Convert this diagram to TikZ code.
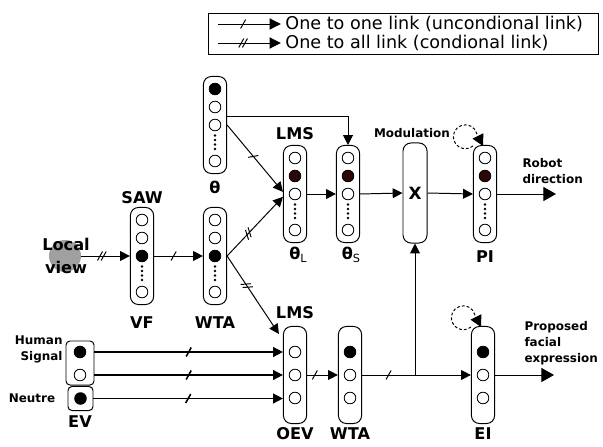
\documentclass[tikz,border=0pt]{standalone}
\usepackage{fontspec}
\setmainfont{DejaVu Sans}
\usetikzlibrary{arrows.meta, calc, decorations.markings}
\definecolor{cellred}{RGB}{45,8,8}
\definecolor{viewgray}{RGB}{160,160,160}

\begin{document}
\begin{tikzpicture}[x=0.025cm, y=-0.025cm, line width=0.7pt,
  col/.style={draw, rounded corners=0.2cm, minimum width=0.58cm, minimum height=2.425cm, inner sep=0pt},
  cell/.style={draw, circle, fill=white, minimum size=0.29cm, inner sep=0pt, line width=0.6pt},
  inbox/.style={draw, rounded corners=0.1cm, inner sep=0pt},
  lbl/.style={font=\fontsize{11.5}{16}\selectfont\bfseries, inner sep=0pt},
  note/.style={font=\fontsize{8.5}{11.5}\selectfont\bfseries, inner sep=0pt},
  legtext/.style={font=\fontsize{12.5}{14}\selectfont, inner sep=0pt, anchor=west},
  arr/.style={-{Triangle[length=7pt, width=7pt]}},
  bigarr/.style={-{Triangle[length=9pt, width=10pt]}},
  slash/.style={postaction={decorate}, decoration={markings,
    mark=at position #1 with {\draw[-] (-1.8pt,-3.2pt) -- (1.8pt,3.2pt);}}},
  slash/.default=0.5,
  dslash/.style={postaction={decorate}, decoration={markings,
    mark=at position #1 with {\draw[-] (-3.1pt,-3.2pt) -- (0.5pt,3.2pt); \draw[-] (-0.5pt,-3.2pt) -- (3.1pt,3.2pt);}}},
  dslash/.default=0.5,
  selfloop/.style={dash pattern=on 2pt off 1.5pt, -{Triangle[length=8pt, width=8.5pt]}}
]
\useasboundingbox (0,0) rectangle (603,446);

% legend
\node[draw, minimum width=9.725cm, minimum height=1.025cm, inner sep=0pt] (legend) at (403.5,33.5) {};
\node[legtext] (lgone) at (285,24) {One to one link (uncondional link)};
\node[legtext] (lgall) at (285,43) {One to all link (condional link)};
\coordinate (lgonestart) at (218,24);
\coordinate (lgallstart) at (218,43);
\draw[-{Triangle[length=8pt, width=8pt]}, slash=0.4] (lgonestart) -- ([xshift=-3pt]lgone.west);
\draw[-{Triangle[length=8pt, width=8pt]}, dslash=0.4] (lgallstart) -- ([xshift=-3pt]lgall.west);

% columns with five cells
\foreach \n/\cx/\cy/\a/\b/\c in {vf/142/256/white/white/black, wta/215/256/white/white/black,
    th/215/125/black/white/white, thl/295/194/white/cellred/white,
    ths/348/194/white/cellred/white, picol/485/194/white/cellred/white}{
  \node[col] (\n) at (\cx,\cy) {};
  \node[cell, fill=\a] (\n1) at ($(\n)+(0,-36)$) {};
  \node[cell, fill=\b] (\n2) at ($(\n)+(0,-18)$) {};
  \node[cell, fill=\c] (\n3) at (\n) {};
  \node[cell] (\n5) at ($(\n)+(0,36)$) {};
  \foreach \d in {10.5,15,19.5,24} \fill ($(\n)+(0,\d)$) circle[radius=1pt];
}

% columns with three cells
\foreach \n/\cx/\a in {oev/295/white, wtb/350/black, ei/483/black}{
  \node[col] (\n) at (\cx,375) {};
  \node[cell, fill=\a] (\n1) at ($(\n)+(0,-23)$) {};
  \node[cell] (\n2) at (\n) {};
  \node[cell] (\n3) at ($(\n)+(0,23)$) {};
}

\node[col, minimum width=0.6cm, minimum height=2.5cm, lbl, font=\fontsize{12}{14}\selectfont\bfseries] (mx) at (415,193) {X};

% inputs
\node[circle, fill=viewgray, minimum size=0.8cm, inner sep=0pt] (lv) at (65,256) {};
\node[lbl, align=center] (lvtext) at (66,256) {Local\\view};
\node[inbox, minimum width=0.7cm, minimum height=1.1cm] (hs) at (80,363) {};
\node[cell, fill=black] (hs1) at (80,352) {};
\node[cell] (hs2) at (80,375) {};
\node[inbox, minimum width=0.625cm, minimum height=0.6cm] (ev) at (80.5,398.5) {};
\node[cell, fill=black] (ev1) at (ev) {};

% labels
\node[lbl] (sawlbl) at (142,198) {SAW};
\node[lbl] (vflbl) at (142,323) {VF};
\node[lbl] (wtalbl) at (215,323) {WTA};
\node[lbl] (thlbl) at (215,187) {θ};
\node[lbl] (lmslbl) at (295,134) {LMS};
\node[lbl] (thllbl) at (298,255) {θ\raisebox{-2.5pt}{\mdseries\fontsize{8}{8}\selectfont L}};
\node[lbl] (thslbl) at (351,255) {θ\raisebox{-2.5pt}{\mdseries\fontsize{8}{8}\selectfont S}};
\node[note] (modlbl) at (412,133) {Modulation};
\node[lbl] (pilbl) at (485,257) {PI};
\node[lbl] (lmsblbl) at (295,313) {LMS};
\node[lbl] (oevlbl) at (295,434) {OEV};
\node[lbl] (wtblbl) at (350,434) {WTA};
\node[lbl] (eilbl) at (483,434) {EI};
\node[lbl] (evlbl) at (80,422) {EV};
\node[note, align=right, anchor=east] (hslbl) at (63,349.5) {Human\\Signal};
\node[note] (neutrelbl) at (32,398) {Neutre};
\node[note, align=left, anchor=west] (robotlbl) at (522,171) {Robot\\direction};
\node[note, align=left, anchor=west] (facelbl) at (524,343.5) {Proposed\\facial\\expression};

% links
\draw[arr, dslash=0.42] (lv) -- (lv -| vf.west);
\draw[arr, slash=0.4] (vf3 -| vf.east) -- (vf3 -| wta.west);
\draw[arr, slash=0.47] (th3 -| th.east) -- ([yshift=1.5pt]thl.west);
\draw[arr, dslash=0.38] (wta3 -| wta.east) -- ([yshift=-2pt]thl.west);
\draw[arr, dslash=0.38] (wta3 -| wta.east) -- ($(oev.north west)+(-4,8)$);
\draw[arr] ($(th.east)+(0,-9)$) -| (ths.north);
\draw[arr] (thl.east) -- (ths.west);
\draw[arr] (ths.east) -- (mx.west);
\draw[arr] (mx.east) -- (picol.west);
\coordinate (robotend) at (556,194);
\draw[bigarr] (picol.east) -- (robotend);
\draw[selfloop] ($(picol.north)+(-12,1)$) arc[start angle=-50, end angle=-320, radius=0.3cm] -- ($(picol.north)+(-2,1)$);

\draw[arr, slash, line width=1.1pt] (hs1 -| hs.east) -- (hs1 -| oev.west);
\draw[arr, slash, line width=1.1pt] (hs2 -| hs.east) -- (hs2 -| oev.west);
\draw[arr, slash, line width=1.1pt] (ev1 -| ev.east) -- (ev1 -| oev.west);
\draw[arr, slash=0.25] (oev2 -| oev.east) -- (oev2 -| wtb.west);
\coordinate (junc) at (mx.south |- wtb2);
\draw[slash] (wtb2 -| wtb.east) -- (junc);
\draw[arr] (junc) -- (wtb2 -| ei.west);
\draw[arr] (junc) -- (mx.south);
\coordinate (faceend) at (554,375);
\draw[bigarr] (ei.east) -- (faceend);
\draw[selfloop] ($(ei.north)+(-12,1)$) arc[start angle=-50, end angle=-320, radius=0.3cm] -- ($(ei.north)+(-2,1)$);
\end{tikzpicture}
\end{document}
